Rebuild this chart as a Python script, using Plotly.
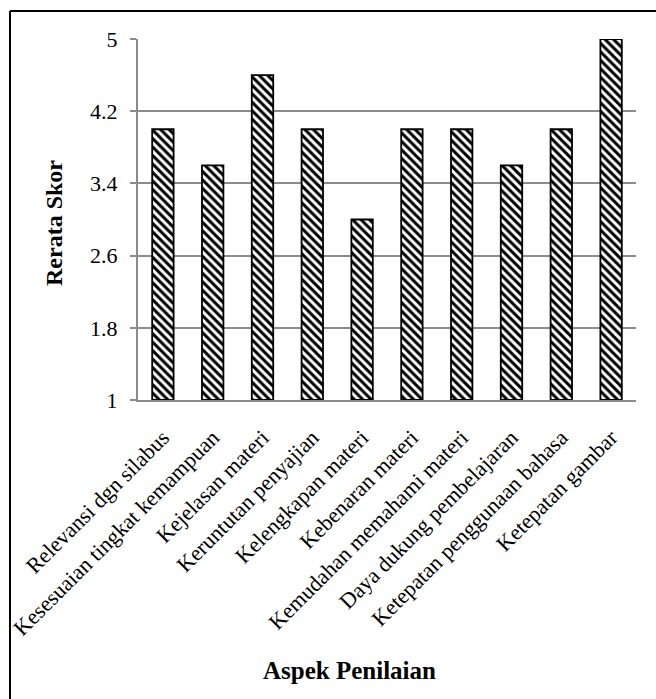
import plotly.graph_objects as go

# Aspek penilaian dan rerata skor
aspek = [
    "Relevansi dgn silabus",
    "Kesesuaian tingkat kemampuan",
    "Kejelasan materi",
    "Keruntutan penyajian",
    "Kelengkapan materi",
    "Kebenaran materi",
    "Kemudahan memahami materi",
    "Daya dukung pembelajaran",
    "Ketepatan penggunaan bahasa",
    "Ketepatan gambar",
]
rerata_skor = [4.0, 3.6, 4.6, 4.0, 3.0, 4.0, 4.0, 3.6, 4.0, 5.0]
y_ticks = [1, 1.8, 2.6, 3.4, 4.2, 5]
y_tick_labels = ["1", "1.8", "2.6", "3.4", "4.2", "5"]

W, H = 656, 699
L, R, T, B = 138, 20, 39, 299
pw, ph = W - L - R, H - T - B


def px_x(x):
    return (x - L) / pw


def px_y(y):
    return (H - B - y) / ph


serif = "Liberation Serif"
grid = "#8c8c8c"

fig = go.Figure(
    go.Bar(
        x=aspek,
        y=[v - 1 for v in rerata_skor],
        base=1,
        width=0.43,
        marker=dict(
            color="white",
            line=dict(color="black", width=1.8),
            pattern=dict(shape="\\", fgcolor="black", bgcolor="white",
                         fgopacity=1, size=6, solidity=0.5,
                         fillmode="overlay"),
        ),
        hovertext=[f"{a}: {v}" for a, v in zip(aspek, rerata_skor)],
    )
)

fig.update_layout(
    width=W,
    height=H,
    margin=dict(l=L, r=R, t=T, b=B, autoexpand=False),
    paper_bgcolor="white",
    plot_bgcolor="white",
    showlegend=False,
    font=dict(family=serif, color="black"),
)

fig.update_xaxes(
    tickangle=-45,
    tickfont=dict(family=serif, size=22, color="black"),
    ticklabelstandoff=14,
    showline=True,
    linecolor=grid,
    linewidth=2,
    ticks="",
    showgrid=False,
    automargin=False,
)

fig.update_yaxes(
    range=[1, 5],
    tickvals=y_ticks,
    ticktext=y_tick_labels,
    tickfont=dict(family=serif, size=22, color="black"),
    ticks="outside",
    ticklen=6,
    tickwidth=2,
    tickcolor=grid,
    ticklabelstandoff=8,
    showline=True,
    linecolor=grid,
    linewidth=2,
    showgrid=True,
    gridcolor=grid,
    gridwidth=2,
    zeroline=False,
    automargin=False,
)

# Axis titles
fig.add_annotation(
    text="Rerata Skor", xref="paper", yref="paper",
    x=px_x(54), y=px_y(223), textangle=-90, showarrow=False,
    font=dict(family=serif, size=24, color="black", weight="bold"),
    xanchor="center", yanchor="middle",
)
fig.add_annotation(
    text="Aspek Penilaian", xref="paper", yref="paper",
    x=px_x(349), y=px_y(670), showarrow=False,
    font=dict(family=serif, size=25, color="black", weight="bold"),
    xanchor="center", yanchor="middle",
)

# Frame around the chart
fig.add_shape(type="line", xref="paper", yref="paper",
              x0=px_x(10), y0=px_y(11), x1=px_x(W + 20), y1=px_y(11),
              line=dict(color="black", width=2))
fig.add_shape(type="line", xref="paper", yref="paper",
              x0=px_x(10), y0=px_y(11), x1=px_x(10), y1=px_y(H + 20),
              line=dict(color="black", width=2))

fig.write_html("out.html")
